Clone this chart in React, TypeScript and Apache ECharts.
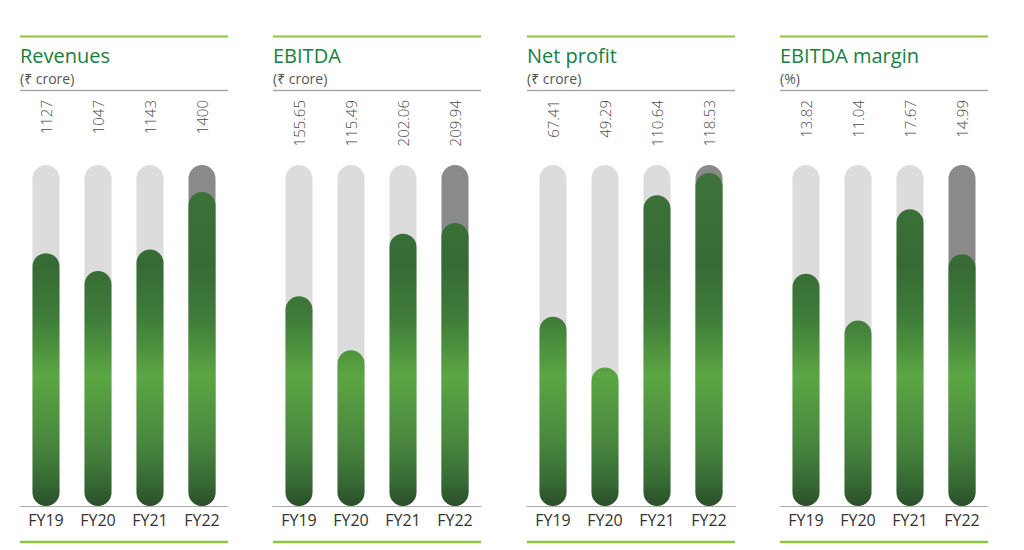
import React, { useEffect, useRef } from "react";
import * as echarts from "echarts";

const categories = ["FY19", "FY20", "FY21", "FY22"];
const panelTitles = ["Revenues", "EBITDA", "Net profit", "EBITDA margin"];
const panelUnits = ["(₹ crore)", "(₹ crore)", "(₹ crore)", "(%)"];
const revenues = [1127, 1047, 1143, 1400];
const ebitda = [155.65, 115.49, 202.06, 209.94];
const netProfit = [67.41, 49.29, 110.64, 118.53];
const ebitdaMargin = [13.82, 11.04, 17.67, 14.99];
const decimals = [0, 2, 2, 2];
const axisMax = [1520, 253, 121.4, 20.3];

const panelValues = [revenues, ebitda, netProfit, ebitdaMargin];

const PANEL_LEFT = [20, 273, 527, 780];
const PANEL_W = 208;
const GRID_TOP = 165;
const GRID_H = 341;
const FONT = "'Open Sans', 'Noto Sans', 'DejaVu Sans', sans-serif";

export default function App() {
  const ref = useRef<HTMLDivElement>(null);

  useEffect(() => {
    if (!ref.current) return;
    const chart = echarts.init(ref.current, undefined, { renderer: "svg" });

    const green = new echarts.graphic.LinearGradient(
      0,
      GRID_TOP,
      0,
      GRID_TOP + GRID_H,
      [
        { offset: 0, color: "#3d733a" },
        { offset: 0.3, color: "#376b35" },
        { offset: 0.45, color: "#3f7c39" },
        { offset: 0.62, color: "#5ba643" },
        { offset: 0.8, color: "#4a893e" },
        { offset: 0.93, color: "#376a34" },
        { offset: 1, color: "#2b4e2a" },
      ],
      true
    );

    const grids: any[] = [];
    const xAxes: any[] = [];
    const yAxes: any[] = [];
    const series: any[] = [];
    const titles: any[] = [];
    const graphics: any[] = [];

    panelValues.forEach((vals, i) => {
      const left = PANEL_LEFT[i];
      grids.push({ left, width: PANEL_W, top: GRID_TOP, height: GRID_H });
      xAxes.push({
        type: "category",
        gridIndex: i,
        data: categories,
        axisTick: { show: false },
        axisLine: { lineStyle: { color: "#aaaaaa", width: 1 } },
        axisLabel: { color: "#333333", fontSize: 16, fontFamily: FONT, margin: 6 },
      });
      yAxes.push({
        type: "value",
        gridIndex: i,
        min: 0,
        max: axisMax[i],
        show: false,
        splitLine: { show: false },
      });
      series.push({
        type: "bar",
        xAxisIndex: i,
        yAxisIndex: i,
        barWidth: 27,
        barGap: "-100%",
        z: 1,
        silent: true,
        data: categories.map((_, j) => ({
          value: axisMax[i],
          itemStyle: {
            color: j === categories.length - 1 ? "#8a8a8a" : "#dcdcdc",
            borderRadius: 13.5,
          },
        })),
        label: {
          show: true,
          position: "top",
          distance: 65,
          rotate: 90,
          align: "right",
          verticalAlign: "middle",
          color: "#4a4a4a",
          fontSize: 15,
          fontWeight: 300,
          fontFamily: FONT,
          formatter: (p: any) => vals[p.dataIndex].toFixed(decimals[i]),
        },
      });
      series.push({
        type: "bar",
        xAxisIndex: i,
        yAxisIndex: i,
        barWidth: 27,
        barGap: "-100%",
        z: 2,
        data: vals,
        itemStyle: { color: green, borderRadius: 13.5 },
      });
      titles.push({
        text: panelTitles[i],
        subtext: panelUnits[i],
        left,
        top: 44,
        padding: 0,
        itemGap: 4,
        textStyle: { color: "#17803f", fontSize: 20, fontWeight: "normal", fontFamily: FONT, lineHeight: 22 },
        subtextStyle: { color: "#555555", fontSize: 14, fontFamily: FONT, lineHeight: 16 },
      });
      graphics.push(
        { type: "line", shape: { x1: left, y1: 36.5, x2: left + PANEL_W, y2: 36.5 }, style: { stroke: "#8cc63e", lineWidth: 2 } },
        { type: "line", shape: { x1: left, y1: 90.5, x2: left + PANEL_W, y2: 90.5 }, style: { stroke: "#a8a8a8", lineWidth: 1.5 } },
        { type: "line", shape: { x1: left, y1: 542, x2: left + PANEL_W, y2: 542 }, style: { stroke: "#8cc63e", lineWidth: 2.5 } }
      );
    });

    chart.setOption({
      animation: false,
      backgroundColor: "#ffffff",
      title: titles,
      grid: grids,
      xAxis: xAxes,
      yAxis: yAxes,
      series,
      graphic: graphics,
    });

    return () => chart.dispose();
  }, []);

  return (
    <div
      ref={ref}
      style={{ position: "fixed", left: 0, top: 0, width: 1024, height: 550 }}
    />
  );
}
